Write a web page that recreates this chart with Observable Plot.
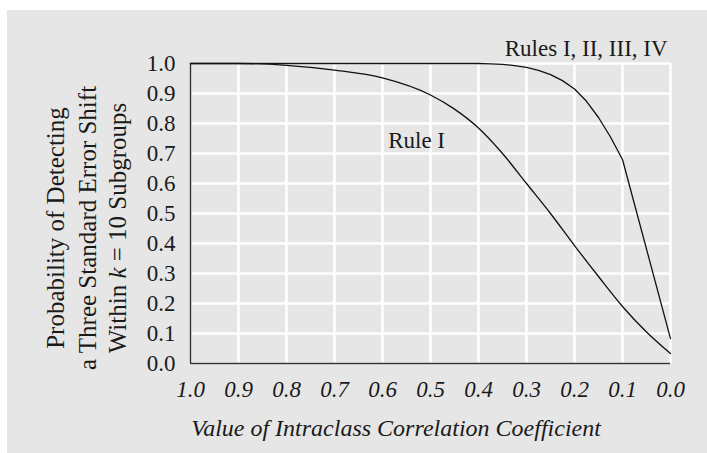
<!DOCTYPE html>
<html>
<head>
<meta charset="utf-8">
<script src="https://cdn.jsdelivr.net/npm/d3@7"></script>
<script src="https://cdn.jsdelivr.net/npm/@observablehq/plot@0.6"></script>
<style>
  html, body { margin: 0; padding: 0; background: #ffffff; }
  #wrap { position: relative; width: 707px; height: 453px; overflow: hidden; }
  #panel { position: absolute; left: 7px; top: 10px; right: 0; bottom: 0; background: #e6e6e6; }
  #chart { position: absolute; left: 0; top: 0; }
</style>
</head>
<body>
<div id="wrap"><div id="panel"></div><div id="chart"></div></div>
<script>
// ICC values (x) and detection probabilities (y)
const iccRuleI   = [1.0, 0.9, 0.8, 0.7, 0.6, 0.5, 0.45, 0.4, 0.35, 0.3, 0.25, 0.2, 0.15, 0.1, 0.05, 0.0];
const probRuleI  = [1.0, 1.0, 0.994, 0.978, 0.952, 0.895, 0.848, 0.785, 0.70, 0.60, 0.50, 0.393, 0.29, 0.19, 0.105, 0.033];

const iccRulesAll  = [1.0, 0.9, 0.8, 0.7, 0.6, 0.5, 0.4, 0.375, 0.35, 0.325, 0.3, 0.275, 0.25, 0.225, 0.2, 0.175, 0.15, 0.125, 0.1, 0.0];
const probRulesAll = [1.0, 1.0, 1.0, 1.0, 1.0, 1.0, 1.0, 0.999, 0.997, 0.993, 0.987, 0.977, 0.963, 0.943, 0.915, 0.874, 0.82, 0.755, 0.68, 0.083];

const xTicks = [1.0, 0.9, 0.8, 0.7, 0.6, 0.5, 0.4, 0.3, 0.2, 0.1, 0.0];
const yTicks = [0.0, 0.1, 0.2, 0.3, 0.4, 0.5, 0.6, 0.7, 0.8, 0.9, 1.0];

const labelRulesAll = "Rules I, II, III, IV";
const labelRuleI = "Rule I";
const xTitle = "Value of Intraclass Correlation Coefficient";
const yTitleLines = ["Probability of Detecting", "a Three Standard Error Shift", "Within k = 10 Subgroups"];

const ruleI = iccRuleI.map((x, i) => ({x, y: probRuleI[i]}));
const rulesAll = iccRulesAll.map((x, i) => ({x, y: probRulesAll[i]}));

const FONT = "'Liberation Serif', 'DejaVu Serif', serif";
const fmt = d3.format(".1f");

const plot = Plot.plot({
  width: 707,
  height: 453,
  marginLeft: 190,
  marginRight: 37,
  marginTop: 63,
  marginBottom: 90,
  style: { background: "transparent", fontFamily: FONT, fontSize: "23px", color: "#1a1a1a" },
  x: { domain: [1, 0], ticks: xTicks, tickFormat: fmt, label: null, axis: null },
  y: { domain: [0, 1], ticks: yTicks, tickFormat: fmt, label: null, axis: null },
  marks: [
    Plot.gridX(xTicks, { stroke: "#ffffff", strokeOpacity: 1, strokeWidth: 2.5 }),
    Plot.gridY(yTicks, { stroke: "#ffffff", strokeOpacity: 1, strokeWidth: 2.5 }),
    Plot.axisY(yTicks, { tickSize: 0, tickPadding: 15, tickFormat: fmt, label: null, fontSize: 23, fill: "#1a1a1a" }),
    Plot.axisX(xTicks, { tickSize: 0, tickPadding: 17, tickFormat: fmt, label: null, fontSize: 23, fontStyle: "italic", fill: "#1a1a1a" }),
    Plot.ruleX([1], { stroke: "#333", strokeWidth: 1.5 }),
    Plot.ruleY([0], { stroke: "#333", strokeWidth: 1.5 }),
    Plot.line(rulesAll, { x: "x", y: "y", stroke: "#111", strokeWidth: 1.3, curve: "linear" }),
    Plot.line(ruleI, { x: "x", y: "y", stroke: "#111", strokeWidth: 1.3, curve: "monotone-x" }),
    Plot.text([labelRulesAll], { x: 0.006, y: 1.05, text: d => d, textAnchor: "end", fontSize: 23, fill: "#1a1a1a" }),
    Plot.text([labelRuleI], { x: 0.529, y: 0.743, text: d => d, fontSize: 23, fill: "#1a1a1a" })
  ]
});
document.getElementById("chart").appendChild(plot);

// Axis titles
const svg = d3.select(plot);
svg.append("text")
  .attr("x", 396).attr("y", 436)
  .attr("text-anchor", "middle")
  .attr("font-family", FONT).attr("font-size", 24).attr("font-style", "italic")
  .attr("fill", "#1a1a1a")
  .text(xTitle);

const yt = svg.append("g")
  .attr("font-family", FONT).attr("font-size", 25).attr("fill", "#1a1a1a")
  .attr("text-anchor", "middle");
const xs = [55, 87, 117];
yTitleLines.forEach((line, i) => {
  const t = yt.append("text")
    .attr("transform", `translate(${xs[i]},228) rotate(-90)`)
    .attr("dy", "0.35em");
  if (line.includes(" k ")) {
    const [a, b] = line.split(" k ");
    t.append("tspan").text(a + " ");
    t.append("tspan").attr("font-style", "italic").text("k");
    t.append("tspan").text(" " + b);
  } else {
    t.text(line);
  }
});
</script>
</body>
</html>
